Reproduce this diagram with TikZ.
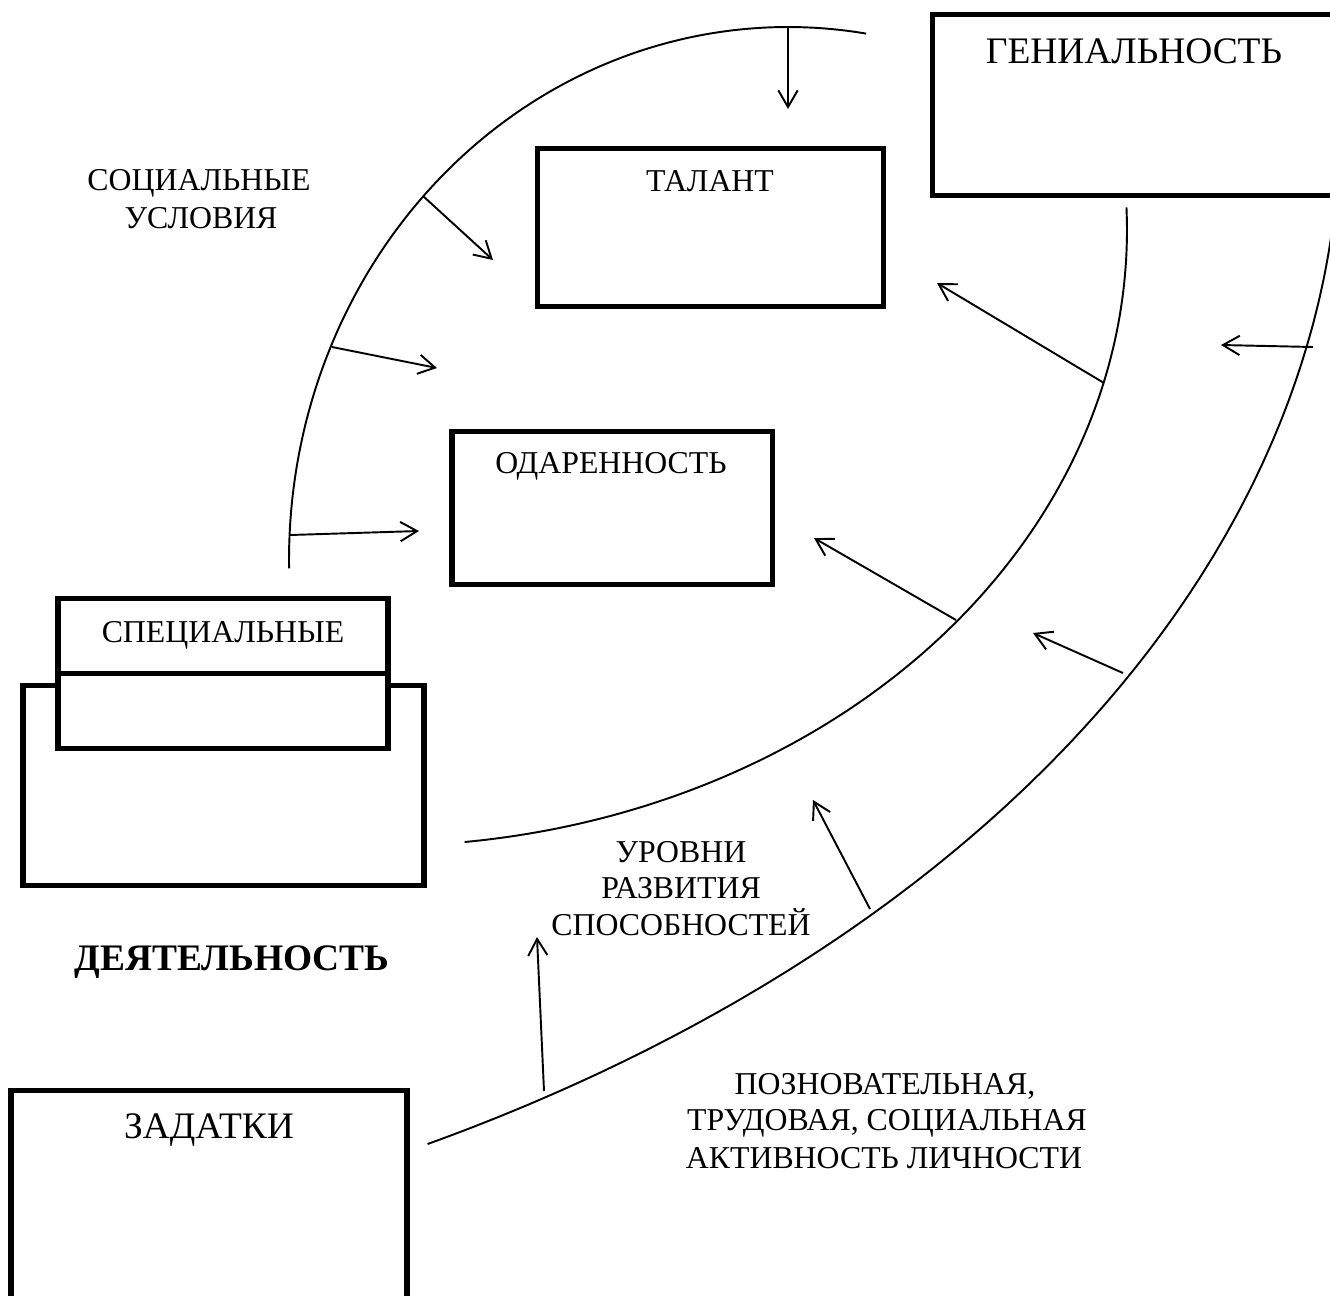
\documentclass[tikz,border=0pt]{standalone}
\usepackage{fontspec}
\setmainfont{Liberation Serif}
\usetikzlibrary{arrows.meta,fit}
\begin{document}
\begin{tikzpicture}[x=0.02cm,y=-0.02cm,
  box/.style={draw, line width=2.85pt, inner sep=0pt},
  arcline/.style={line width=1.1pt},
  arr/.style={line width=1.1pt, -{Straight Barb[length=9.5pt,width=11pt]}},
  lbl/.style={anchor=base, inner sep=0pt, font=\fontsize{18.1}{21}\selectfont},
  big/.style={anchor=base, inner sep=0pt, font=\fontsize{21.3}{24}\selectfont},
  bigbold/.style={anchor=base, inner sep=0pt, font=\fontsize{21.3}{24}\selectfont\bfseries}]
\useasboundingbox (0,0) rectangle (1330,1296);
\clip (0,0) rectangle (1330,1296);

% boxes
\node[box, fit={(932,14) (1345,195)}] (genius) {};
\node[box, fit={(537,148) (883,306)}] (talent) {};
\node[box, fit={(452,431) (772,584)}] (gift) {};
\node[box, fit={(23,685) (424,885)}] (activity) {};
\node[box, fill=white, fit={(58,598) (388,673)}] (special) {};
\node[box, fill=white, fit={(58,673) (388,748)}] (speciallow) {};
\node[box, fit={(11,1090) (407,1320)}] (inclin) {};

% arcs
\draw[arcline] plot[domain=179.1:279, samples=120, smooth] ({788+499*cos(\x)}, {560+533*sin(\x)});
\draw[arcline] plot[domain=-2.1:83.5, samples=120, smooth] ({380+747*cos(\x)}, {230+616*sin(\x)});
\draw[arcline] plot[domain=-3:61.6, samples=120, smooth] ({-400+1740*cos(\x)}, {120+1164.2*sin(\x)});

% texts
\node[big] (tgen) at (1134,63) {ГЕНИАЛЬНОСТЬ};
\node[lbl] (ttal) at (710,191) {ТАЛАНТ};
\node[lbl] (todar) at (611,473) {ОДАРЕННОСТЬ};
\node[lbl] (tspec) at (223,642) {СПЕЦИАЛЬНЫЕ};
\node[lbl] (tsoc1) at (199,190) {СОЦИАЛЬНЫЕ};
\node[lbl] (tsoc2) at (201,228) {УСЛОВИЯ};
\node[lbl] (tur1) at (681,862) {УРОВНИ};
\node[lbl] (tur2) at (681,898) {РАЗВИТИЯ};
\node[lbl] (tur3) at (681,935) {СПОСОБНОСТЕЙ};
\node[bigbold] (tdeyat) at (232,970) {ДЕЯТЕЛЬНОСТЬ};
\node[big] (tzad) at (209,1138) {ЗАДАТКИ};
\node[lbl] (tpoz1) at (885,1094) {ПОЗНОВАТЕЛЬНАЯ,};
\node[lbl] (tpoz2) at (887,1130) {ТРУДОВАЯ, СОЦИАЛЬНАЯ};
\node[lbl] (tpoz3) at (884,1168) {АКТИВНОСТЬ ЛИЧНОСТИ};

% arrow end points
\coordinate (a1s) at (788,27);   \coordinate (a1e) at (788,109);
\coordinate (a2s) at (423,196);  \coordinate (a2e) at (493,260);
\coordinate (a3s) at (332,347);  \coordinate (a3e) at (437,368);
\coordinate (a4s) at (290,535);  \coordinate (a4e) at (419,531);
\coordinate (a5s) at (1104,383); \coordinate (a5e) at (937,283);
\coordinate (a6s) at (956,620);  \coordinate (a6e) at (814,538);
\coordinate (a7s) at (1313,347); \coordinate (a7e) at (1221,345);
\coordinate (a8s) at (1123,673); \coordinate (a8e) at (1033,633);
\coordinate (a9s) at (870,909);  \coordinate (a9e) at (813,800);
\coordinate (a10s) at (544,1091); \coordinate (a10e) at (537,937);

\draw[arr] (a1s) -- (a1e);
\draw[arr] (a2s) -- (a2e);
\draw[arr] (a3s) -- (a3e);
\draw[arr] (a4s) -- (a4e);
\draw[arr] (a5s) -- (a5e);
\draw[arr] (a6s) -- (a6e);
\draw[arr] (a7s) -- (a7e);
\draw[arr] (a8s) -- (a8e);
\draw[arr] (a9s) -- (a9e);
\draw[arr] (a10s) -- (a10e);
\end{tikzpicture}
\end{document}
